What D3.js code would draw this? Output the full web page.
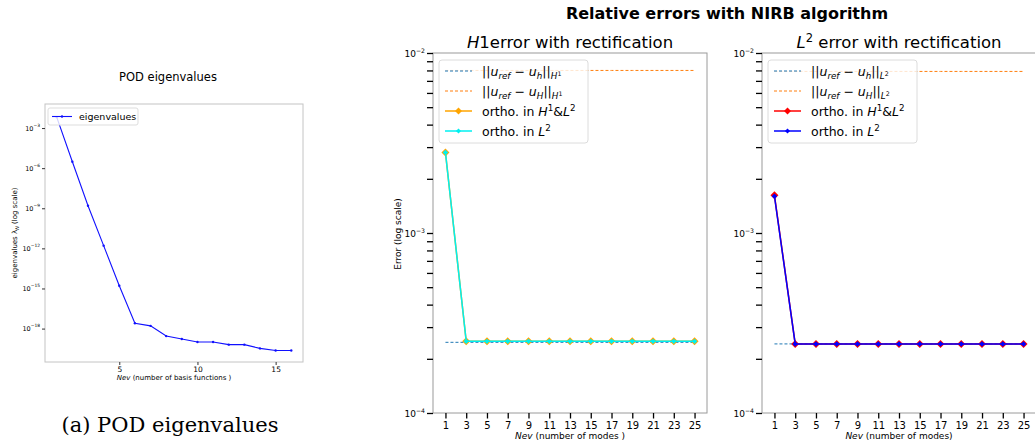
<!DOCTYPE html>
<html>
<head>
<meta charset="utf-8">
<script src="https://cdn.jsdelivr.net/npm/d3@7"></script>
<style>
  body { margin: 0; background: #fff; }
  text { font-family: "DejaVu Sans", sans-serif; fill: #000; }
</style>
</head>
<body>
<script>
"use strict"

// ---- data ----
var eigIdx = [1, 2, 3, 4, 5, 6, 7, 8, 9, 10, 11, 12, 13, 14, 15, 16];
var eigVals = [6.6e-3, 3.0e-6, 1.55e-9, 1.6e-12, 1.6e-15, 2.5e-18, 1.6e-18, 2.75e-19,
               1.66e-19, 1.0e-19, 1.0e-19, 6.3e-20, 6.3e-20, 3.3e-20, 2.3e-20, 2.3e-20];
var eigXTicks = [5, 10, 15];
var eigYTicks = [1e-3, 1e-6, 1e-9, 1e-12, 1e-15, 1e-18];

var nev = [1, 3, 5, 7, 9, 11, 13, 15, 17, 19, 21, 23, 25];
var h1Fine   = [2.47e-4, 2.47e-4, 2.47e-4, 2.47e-4, 2.47e-4, 2.47e-4, 2.47e-4, 2.47e-4, 2.47e-4, 2.47e-4, 2.47e-4, 2.47e-4, 2.47e-4];
var h1Coarse = [8.0e-3, 8.0e-3, 8.0e-3, 8.0e-3, 8.0e-3, 8.0e-3, 8.0e-3, 8.0e-3, 8.0e-3, 8.0e-3, 8.0e-3, 8.0e-3, 8.0e-3];
var h1OrthoH1L2 = [2.8e-3, 2.5e-4, 2.5e-4, 2.5e-4, 2.5e-4, 2.5e-4, 2.5e-4, 2.5e-4, 2.5e-4, 2.5e-4, 2.5e-4, 2.5e-4, 2.5e-4];
var h1OrthoL2   = [2.8e-3, 2.5e-4, 2.5e-4, 2.5e-4, 2.5e-4, 2.5e-4, 2.5e-4, 2.5e-4, 2.5e-4, 2.5e-4, 2.5e-4, 2.5e-4, 2.5e-4];
var l2Fine   = [2.42e-4, 2.42e-4, 2.42e-4, 2.42e-4, 2.42e-4, 2.42e-4, 2.42e-4, 2.42e-4, 2.42e-4, 2.42e-4, 2.42e-4, 2.42e-4, 2.42e-4];
var l2Coarse = [7.9e-3, 7.9e-3, 7.9e-3, 7.9e-3, 7.9e-3, 7.9e-3, 7.9e-3, 7.9e-3, 7.9e-3, 7.9e-3, 7.9e-3, 7.9e-3, 7.9e-3];
var l2OrthoH1L2 = [1.62e-3, 2.42e-4, 2.42e-4, 2.42e-4, 2.42e-4, 2.42e-4, 2.42e-4, 2.42e-4, 2.42e-4, 2.42e-4, 2.42e-4, 2.42e-4, 2.42e-4];
var l2OrthoL2   = [1.60e-3, 2.42e-4, 2.42e-4, 2.42e-4, 2.42e-4, 2.42e-4, 2.42e-4, 2.42e-4, 2.42e-4, 2.42e-4, 2.42e-4, 2.42e-4, 2.42e-4];
var errYTicks = [1e-4, 1e-3, 1e-2];

var svg = d3.select("body").append("svg")
            .attr("width", 1035)
            .attr("height", 447);

// text built from pieces: s = shift down in px, f = size factor, i = italic
function richText(g, x, y, size, parts, anchor) {
    var t = g.append("text").attr("x", x).attr("y", y)
             .style("font-size", size + "px")
             .attr("text-anchor", anchor || "start");
    var cur = 0;
    parts.forEach(function(p) {
        var s = p.s || 0;
        t.append("tspan").attr("dy", s - cur)
         .style("font-size", (p.f || 1) * size + "px")
         .style("font-style", p.i ? "italic" : "normal")
         .text(p.t);
        cur = s;
    });
    return t;
}

function powLabel(v) {
    return [{t: "10"}, {t: "\u2212" + Math.round(-Math.log10(v)), f: 0.68, s: -4}];
}

// matplotlib "D" marker: a square turned 45 degrees
var diamond = d3.symbol().type(d3.symbolSquare);

// ================= POD eigenvalues =================
var xE = d3.scaleLinear().domain([0.25, 16.75]).range([45, 303]);
var yE = d3.scaleLog().domain([Math.pow(10, -20.5), Math.pow(10, -1.2)]).range([362, 104]);

var gE = svg.append("g");
gE.append("rect").attr("x", 45).attr("y", 104).attr("width", 258).attr("height", 258)
  .attr("fill", "none").attr("stroke", "#c4c4c4").attr("stroke-width", 1);

var axE = gE.append("g").attr("transform", "translate(0,362)")
    .call(d3.axisBottom(xE).tickValues(eigXTicks).tickSize(3).tickPadding(2));
axE.select(".domain").remove();
axE.selectAll("line").attr("stroke", "#333");
axE.selectAll("text").style("font-size", "7.5px");

var ayE = gE.append("g").attr("transform", "translate(45,0)")
    .call(d3.axisLeft(yE).tickValues(eigYTicks).tickSize(3).tickFormat(""));
ayE.select(".domain").remove();
ayE.selectAll("line").attr("stroke", "#333");
eigYTicks.forEach(function(v) {
    richText(gE, 40, yE(v) + 2.5, 6.5, powLabel(v), "end");
});

gE.append("path").datum(eigVals)
  .attr("fill", "none").attr("stroke", "#1010ff").attr("stroke-width", 1.1)
  .attr("d", d3.line().x(function(d, i) { return xE(eigIdx[i]); }).y(function(d) { return yE(d); }));
gE.selectAll(".eigpt").data(eigVals).enter().append("circle")
  .attr("cx", function(d, i) { return xE(eigIdx[i]); })
  .attr("cy", function(d) { return yE(d); })
  .attr("r", 1.2).attr("fill", "#1010ff");

// legend
gE.append("rect").attr("x", 48).attr("y", 108).attr("width", 90).attr("height", 17).attr("rx", 2)
  .attr("fill", "#fff").attr("fill-opacity", 0.8).attr("stroke", "#ddd");
gE.append("line").attr("x1", 52).attr("x2", 72).attr("y1", 116.5).attr("y2", 116.5)
  .attr("stroke", "#1010ff").attr("stroke-width", 1.1);
gE.append("circle").attr("cx", 62).attr("cy", 116.5).attr("r", 1.2).attr("fill", "#1010ff");
gE.append("text").attr("x", 79).attr("y", 120).style("font-size", "9.5px").text("eigenvalues");

gE.append("text").attr("x", 168).attr("y", 81).attr("text-anchor", "middle")
  .style("font-size", "11.5px").text("POD eigenvalues");
richText(gE, 174, 380, 7, [{t: "Nev", i: 1}, {t: " (number of basis functions )"}], "middle");
richText(gE.append("g").attr("transform", "translate(17,233) rotate(-90)"), 0, 0, 7,
  [{t: "eigenvalues \u03bb"}, {t: "N", i: 1, f: 0.7, s: 2}, {t: " (log scale)", s: 0}], "middle");

svg.append("text").attr("x", 170).attr("y", 432).attr("text-anchor", "middle")
  .style("font-family", "'DejaVu Serif', serif").style("font-size", "20px")
  .attr("textLength", 217).attr("lengthAdjust", "spacingAndGlyphs")
  .text("(a) POD eigenvalues");

// ================= relative errors =================
svg.append("text").attr("x", 727).attr("y", 19).attr("text-anchor", "middle")
  .style("font-size", "16px").style("font-weight", "bold")
  .text("Relative errors with NIRB algorithm");

function errPanel(left, right, titleParts, xLabel, yLabel, fine, coarse, orthoA, orthoB, colA, colB, legendParts) {
    var top = 53, bottom = 413;
    var x = d3.scaleLinear().domain([-0.2, 26.2]).range([left, right]);
    var y = d3.scaleLog().domain([1e-4, 1e-2]).range([bottom, top]);
    var g = svg.append("g");

    g.append("rect").attr("x", left).attr("y", top).attr("width", right - left).attr("height", bottom - top)
     .attr("fill", "none").attr("stroke", "#9a9a9a").attr("stroke-width", 1);

    var ax = g.append("g").attr("transform", "translate(0," + bottom + ")")
        .call(d3.axisBottom(x).tickValues(nev).tickSize(5.5).tickPadding(3));
    ax.select(".domain").remove();
    ax.selectAll("line").attr("stroke", "#000").attr("stroke-width", 1.3);
    ax.selectAll("text").style("font-size", "10px");

    var ay = g.append("g").attr("transform", "translate(" + left + ",0)")
        .call(d3.axisLeft(y).tickSize(6).tickFormat(""));
    ay.select(".domain").remove();
    ay.selectAll("line").attr("stroke", "#000").attr("stroke-width", 1.3);
    errYTicks.forEach(function(v) {
        richText(g, left - 8, y(v) + 3.5, 9, powLabel(v), "end");
    });

    var line = d3.line().x(function(d, i) { return x(nev[i]); }).y(function(d) { return y(d); });
    g.append("path").datum(fine).attr("d", line).attr("fill", "none")
     .attr("stroke", "#1f77b4").attr("stroke-width", 1).attr("stroke-dasharray", "3,2");
    g.append("path").datum(coarse).attr("d", line).attr("fill", "none")
     .attr("stroke", "#ff7f0e").attr("stroke-width", 1).attr("stroke-dasharray", "3,2");
    g.append("path").datum(orthoA).attr("d", line).attr("fill", "none")
     .attr("stroke", colA).attr("stroke-width", 1.5);
    g.selectAll(".mA").data(orthoA).enter().append("path")
     .attr("transform", function(d, i) { return "translate(" + x(nev[i]) + "," + y(d) + ") rotate(45)"; })
     .attr("d", diamond.size(32)).attr("fill", colA);
    g.append("path").datum(orthoB).attr("d", line).attr("fill", "none")
     .attr("stroke", colB).attr("stroke-width", 1.5);
    g.selectAll(".mB").data(orthoB).enter().append("path")
     .attr("transform", function(d, i) { return "translate(" + x(nev[i]) + "," + y(d) + ") rotate(45)"; })
     .attr("d", diamond.size(15)).attr("fill", colB);

    // legend
    var lx = left + 6;
    g.append("rect").attr("x", lx).attr("y", 60).attr("width", 149).attr("height", 83).attr("rx", 3)
     .attr("fill", "#fff").attr("fill-opacity", 0.8).attr("stroke", "#dcdcdc");
    var items = [
        {c: "#1f77b4", dash: true},
        {c: "#ff7f0e", dash: true},
        {c: colA, m: 24},
        {c: colB, m: 13}
    ];
    items.forEach(function(it, k) {
        var ly = 71 + k * 20;
        g.append("line").attr("x1", lx + 6).attr("x2", lx + 33).attr("y1", ly).attr("y2", ly)
         .attr("stroke", it.c).attr("stroke-width", it.dash ? 1 : 1.5)
         .attr("stroke-dasharray", it.dash ? "3,2" : null);
        if (it.m) {
            g.append("path").attr("transform", "translate(" + (lx + 19.5) + "," + ly + ") rotate(45)")
             .attr("d", diamond.size(it.m)).attr("fill", it.c);
        }
        richText(g, lx + 43, ly + 4.5, 12.5, legendParts[k]);
    });

    richText(g, (left + right) / 2, 48, 16.5, titleParts, "middle");
    richText(g, (left + right) / 2, 439, 9, [{t: "Nev", i: 1}, {t: xLabel}], "middle");
    if (yLabel) {
        g.append("text").attr("transform", "translate(" + (left - 32) + ",234) rotate(-90)")
         .attr("text-anchor", "middle").style("font-size", "9px").text(yLabel);
    }
}

function normParts(sub, space) {
    return [{t: "||"}, {t: "u", i: 1}, {t: "ref", i: 1, f: 0.7, s: 3}, {t: " \u2212 ", s: 0},
            {t: "u", i: 1}, {t: sub, i: 1, f: 0.7, s: 3}, {t: "||", s: 0},
            {t: space, i: 1, f: 0.7, s: 3}, {t: space === "H" ? "1" : "2", f: 0.5, s: 0}];
}
function orthoParts(lead) {
    return [[{t: lead + "ortho. in "}, {t: "H", i: 1}, {t: "1", f: 0.7, s: -5}, {t: "&", s: 0}, {t: "L", i: 1}, {t: "2", f: 0.7, s: -5}],
            [{t: "ortho. in "}, {t: "L", i: 1}, {t: "2", f: 0.7, s: -5}]];
}

var oH = orthoParts("");
errPanel(433, 707, [{t: "H", i: 1}, {t: "1error with rectification"}], " (number of modes )", "Error (log scale)",
    h1Fine, h1Coarse, h1OrthoH1L2, h1OrthoL2, "#ffa500", "#00f0f0",
    [normParts("h", "H"), normParts("H", "H"), oH[0], oH[1]]);

var oL = orthoParts(" ");
errPanel(762, 1036, [{t: "L", i: 1}, {t: "2", f: 0.7, s: -6}, {t: " error with rectification", s: 0}], " (number of modes)", null,
    l2Fine, l2Coarse, l2OrthoH1L2, l2OrthoL2, "#ff0000", "#0000ff",
    [normParts("h", "L"), normParts("H", "L"), oL[0], oL[1]]);
</script>
</body>
</html>
